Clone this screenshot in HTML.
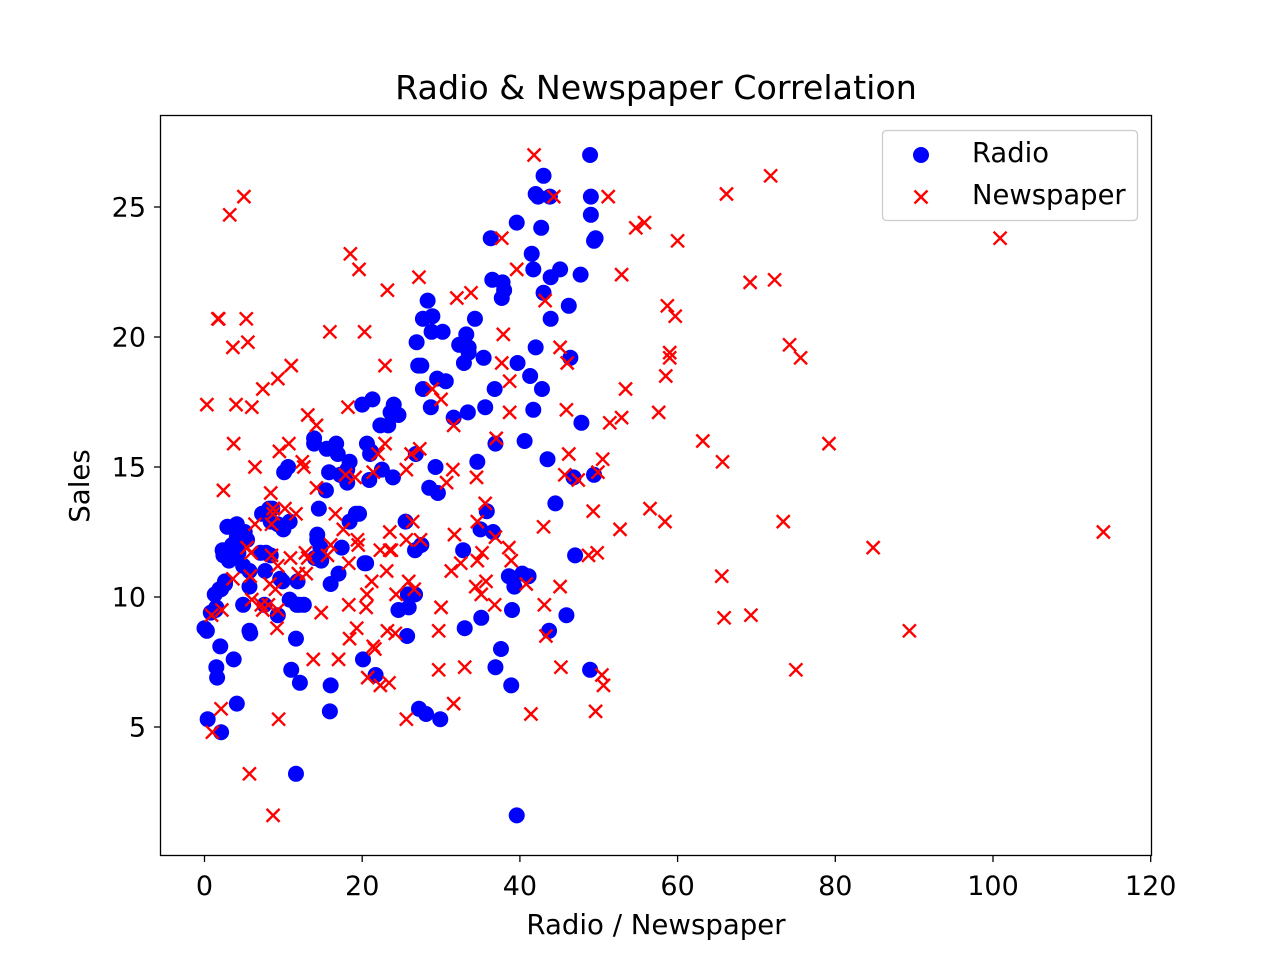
<!DOCTYPE html>
<html><head><meta charset="utf-8"><style>
body{margin:0;background:#fff;}
svg text{font-family:"DejaVu Sans","Liberation Sans",sans-serif;fill:#000;}
</style></head><body>
<svg id="chart" width="1280" height="960" xmlns="http://www.w3.org/2000/svg">
<rect width="1280" height="960" fill="#fff"/>
<text x="656" y="99" font-size="33.3" text-anchor="middle">Radio &amp; Newspaper Correlation</text>
<text x="656" y="934" font-size="27.6" text-anchor="middle">Radio / Newspaper</text>
<text x="0" y="0" font-size="27.6" text-anchor="middle" transform="translate(89,486) rotate(-90)">Sales</text>
<g id="ticks"></g>
<g id="marks"></g>
<rect x="160.5" y="115.5" width="991" height="740" fill="none" stroke="#000" stroke-width="1.3"/>
<g>
<rect x="882.5" y="130.5" width="255" height="90" rx="4" fill="#fff" stroke="#ccc" stroke-width="1.3"/>
<circle cx="921" cy="155" r="8" fill="#0000ff"/>
<text x="972" y="162" font-size="27.4">Radio</text>
<path d="M914.5,190.5 L927.5,203.5 M927.5,190.5 L914.5,203.5" stroke="#ff0000" stroke-width="2.4"/>
<text x="972" y="204" font-size="27.4">Newspaper</text>
</g>
</svg>
<script>
const radio=[37.8,39.3,45.9,41.3,10.8,48.9,32.8,19.6,2.1,2.6,5.8,24,35.1,7.6,32.9,47.7,36.6,39.6,20.5,23.9,27.7,5.1,15.9,16.9,12.6,3.5,29.3,16.7,27.1,16,28.3,17.4,1.5,20,1.4,4.1,43.8,49.4,26.7,37.7,22.3,33.4,27.7,8.4,25.7,22.5,9.9,41.5,15.8,11.7,3.1,9.6,41.7,46.2,28.8,49.4,28.1,19.2,49.6,29.5,2,42.7,15.5,29.6,42.8,9.3,24.6,14.5,27.5,43.9,30.6,14.3,33,5.7,24.6,43.7,1.6,28.5,29.9,7.7,26.7,4.1,20.3,44.5,43,18.4,27.5,40.6,25.5,47.8,4.9,1.5,33.5,36.5,14,31.6,3.5,21,42.3,41.7,4.3,36.3,10.1,17.2,34.3,46.4,11,0.3,0.4,26.9,8.2,38,15.4,20.6,46.8,35,14.3,0.8,36.9,16,26.8,21.7,2.4,34.6,32.3,11.8,38.9,0,49,12,39.6,2.9,27.2,33.5,38.6,47,39,28.9,25.9,43.9,17,35.4,33.2,5.7,14.8,1.9,7.3,49,40.3,25.8,13.9,8.4,23.3,39.7,21.1,11.6,43.5,1.3,36.9,18.4,18.1,35.8,18.1,36.8,14.7,3.4,37.6,5.2,23.6,10.6,11.6,20.9,20.1,7.1,3.4,48.9,30.2,7.8,2.3,10,2.6,5.4,5.7,43,21.3,45.1,2.1,28.7,13.9,12.1,41.1,10.8,4.1,42,35.6,3.7,4.9,9.3,42,8.6];
const newspaper=[69.2,45.1,69.3,58.5,58.4,75,23.5,11.6,1,21.2,24.2,4,65.9,7.2,46,52.9,114,55.8,18.3,19.1,53.4,23.5,49.6,26.2,18.3,19.5,12.6,22.9,22.9,40.8,43.2,38.6,30,0.3,7.4,8.5,5,45.7,35.1,32,31.6,38.7,1.8,26.4,43.3,31.5,35.7,18.5,49.9,36.8,34.6,3.6,39.6,58.7,15.9,60,41.4,16.6,37.7,9.3,21.4,54.7,27.3,8.4,28.9,0.9,2.2,10.2,11,27.2,38.7,31.7,19.3,31.3,13.1,89.4,20.7,14.2,9.4,23.1,22.3,36.9,32.5,35.6,33.8,65.7,16,63.2,73.4,51.4,9.3,33,59,72.3,10.9,52.9,5.9,22,51.2,45.9,49.8,100.9,21.4,17.9,5.3,59,29.7,23.2,25.6,5.5,56.5,23.2,2.4,10.7,34.5,52.7,25.6,14.8,79.2,22.3,46.2,50.4,15.6,12.4,74.2,25.9,50.6,9.2,3.2,43.1,8.7,43,2.1,45.1,65.6,8.5,9.3,59.7,20.5,1.7,12.9,75.6,37.9,34.4,38.9,9,8.7,44.3,11.9,20.6,37,48.7,14.2,37.7,9.5,5.7,50.5,24.3,45.2,34.6,30.7,49.3,25.6,7.4,5.4,84.8,21.6,19.4,57.6,6.4,18.4,47.4,17,12.8,13.1,41.8,20.3,35.2,23.7,17.6,8.3,27.4,29.7,71.8,30,19.6,26.6,18.2,3.7,23.4,5.8,6,31.6,3.6,6,13.8,8.1,6.4,66.2,8.7];
const sales=[22.1,10.4,9.3,18.5,12.9,7.2,11.8,13.2,4.8,10.6,8.6,17.4,9.2,9.7,19,22.4,12.5,24.4,11.3,14.6,18,12.5,5.6,15.5,9.7,12,15,15.9,18.9,10.5,21.4,11.9,9.6,17.4,9.5,12.8,25.4,14.7,10.1,21.5,16.6,17.1,20.7,12.9,8.5,14.9,10.6,23.2,14.8,9.7,11.4,10.7,22.6,21.2,20.2,23.7,5.5,13.2,23.8,18.4,8.1,24.2,15.7,14,18,9.3,9.5,13.4,18.9,22.3,18.3,12.4,8.8,11,17,8.7,6.9,14.2,5.3,11,11.8,12.3,11.3,13.6,21.7,15.2,12,16,12.9,16.7,11.2,7.3,19.4,22.2,11.5,16.9,11.7,15.5,25.4,17.2,11.7,23.8,14.8,14.7,20.7,19.2,7.2,8.7,5.3,19.8,13.4,21.8,14.1,15.9,14.6,12.6,12.2,9.4,15.9,6.6,15.5,7,11.6,15.2,19.7,10.6,6.6,8.8,24.7,9.7,1.6,12.7,5.7,19.6,10.8,11.6,9.5,20.8,9.6,20.7,10.9,19.2,20.1,10.4,11.4,10.3,13.2,25.4,10.9,10.1,16.1,11.6,16.6,19,15.6,3.2,15.3,10.1,7.3,12.9,14.4,13.3,14.9,18,11.9,11.9,8,12.2,17.1,15,8.4,14.5,7.6,11.7,11.5,27,20.2,11.7,11.8,12.6,10.5,12.2,8.7,26.2,17.6,22.6,10.3,17.3,15.9,6.7,10.8,9.9,5.9,19.6,17.3,7.6,9.7,12.8,25.5,13.4];
const xTicks=[0,20,40,60,80,100,120];
const yTicks=[5,10,15,20,25];
function xs(v){return 204.5+v*7.885;}
function ys(v){return 727-(v-5)*26;}
const NS="http://www.w3.org/2000/svg";
const tg=document.getElementById('ticks');
xTicks.forEach(t=>{
 const l=document.createElementNS(NS,'line');
 l.setAttribute('x1',xs(t));l.setAttribute('x2',xs(t));l.setAttribute('y1',855.5);l.setAttribute('y2',862);
 l.setAttribute('stroke','#000');l.setAttribute('stroke-width','1.3');
 
 
 tg.appendChild(l);
 const tx=document.createElementNS(NS,'text');
 tx.setAttribute('x',xs(t));tx.setAttribute('y',895);tx.setAttribute('font-size','27');tx.setAttribute('text-anchor','middle');
 tx.textContent=t;
 
 
 tg.appendChild(tx);
});
yTicks.forEach(t=>{
 const l=document.createElementNS(NS,'line');
 l.setAttribute('x1',154);l.setAttribute('x2',160.5);l.setAttribute('y1',ys(t));l.setAttribute('y2',ys(t));
 l.setAttribute('stroke','#000');l.setAttribute('stroke-width','1.3');
 
 
 tg.appendChild(l);
 const tx=document.createElementNS(NS,'text');
 tx.setAttribute('x',146);tx.setAttribute('y',ys(t)+9.5);tx.setAttribute('font-size','27');tx.setAttribute('text-anchor','end');
 tx.textContent=t;
 
 
 tg.appendChild(tx);
});
const mg=document.getElementById('marks');
radio.forEach((r,i)=>{
 const c=document.createElementNS(NS,'circle');
 c.setAttribute('cx',xs(r));c.setAttribute('cy',ys(sales[i]));c.setAttribute('r',8);c.setAttribute('fill','#0000ff');
 
 
 mg.appendChild(c);
});
newspaper.forEach((n,i)=>{
 const x=xs(n),y=ys(sales[i]);
 const p=document.createElementNS(NS,'path');
 p.setAttribute('d',`M${x-6.5},${y-6.5} L${x+6.5},${y+6.5} M${x+6.5},${y-6.5} L${x-6.5},${y+6.5}`);
 p.setAttribute('stroke','#ff0000');p.setAttribute('stroke-width','2.4');
 
 
 mg.appendChild(p);
});
</script>
</body></html>
